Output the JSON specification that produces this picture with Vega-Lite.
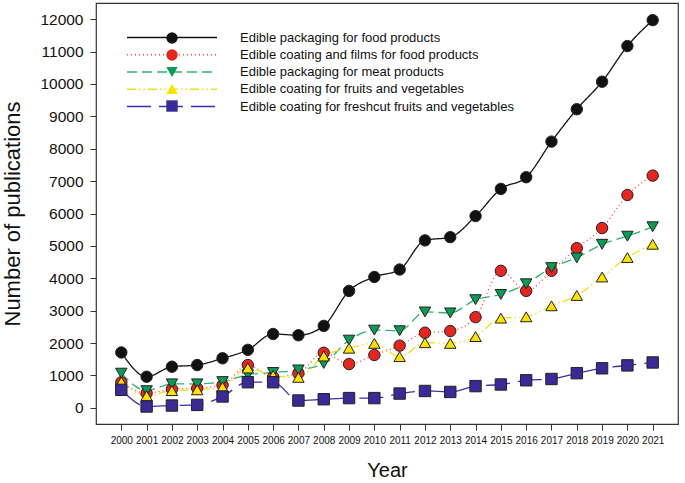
{
  "$schema": "https://vega.github.io/schema/vega-lite/v6.json",
  "width": 582,
  "height": 421,
  "autosize": {"type": "none"},
  "padding": {"left": 96, "top": 3, "right": 7, "bottom": 59},
  "config": {
    "font": "Liberation Sans",
    "view": {"stroke": "#333", "strokeWidth": 1.2},
    "axis": {"grid": false}
  },
  "datasets": {
    "pubs": [
      {"year": 2000, "series": "Edible packaging for food products", "value": 1710},
      {"year": 2001, "series": "Edible packaging for food products", "value": 960},
      {"year": 2002, "series": "Edible packaging for food products", "value": 1270},
      {"year": 2003, "series": "Edible packaging for food products", "value": 1320},
      {"year": 2004, "series": "Edible packaging for food products", "value": 1530},
      {"year": 2005, "series": "Edible packaging for food products", "value": 1790},
      {"year": 2006, "series": "Edible packaging for food products", "value": 2280},
      {"year": 2007, "series": "Edible packaging for food products", "value": 2240},
      {"year": 2008, "series": "Edible packaging for food products", "value": 2530},
      {"year": 2009, "series": "Edible packaging for food products", "value": 3610},
      {"year": 2010, "series": "Edible packaging for food products", "value": 4040},
      {"year": 2011, "series": "Edible packaging for food products", "value": 4270},
      {"year": 2012, "series": "Edible packaging for food products", "value": 5170},
      {"year": 2013, "series": "Edible packaging for food products", "value": 5270},
      {"year": 2014, "series": "Edible packaging for food products", "value": 5920},
      {"year": 2015, "series": "Edible packaging for food products", "value": 6760},
      {"year": 2016, "series": "Edible packaging for food products", "value": 7120},
      {"year": 2017, "series": "Edible packaging for food products", "value": 8220},
      {"year": 2018, "series": "Edible packaging for food products", "value": 9220},
      {"year": 2019, "series": "Edible packaging for food products", "value": 10070},
      {"year": 2020, "series": "Edible packaging for food products", "value": 11170},
      {"year": 2021, "series": "Edible packaging for food products", "value": 11970},

      {"year": 2000, "series": "Edible coating and films for food products", "value": 790},
      {"year": 2001, "series": "Edible coating and films for food products", "value": 450},
      {"year": 2002, "series": "Edible coating and films for food products", "value": 575},
      {"year": 2003, "series": "Edible coating and films for food products", "value": 605},
      {"year": 2004, "series": "Edible coating and films for food products", "value": 700},
      {"year": 2005, "series": "Edible coating and films for food products", "value": 1320},
      {"year": 2006, "series": "Edible coating and films for food products", "value": 950},
      {"year": 2007, "series": "Edible coating and films for food products", "value": 1070},
      {"year": 2008, "series": "Edible coating and films for food products", "value": 1700},
      {"year": 2009, "series": "Edible coating and films for food products", "value": 1350},
      {"year": 2010, "series": "Edible coating and films for food products", "value": 1630},
      {"year": 2011, "series": "Edible coating and films for food products", "value": 1920},
      {"year": 2012, "series": "Edible coating and films for food products", "value": 2320},
      {"year": 2013, "series": "Edible coating and films for food products", "value": 2370},
      {"year": 2014, "series": "Edible coating and films for food products", "value": 2800},
      {"year": 2015, "series": "Edible coating and films for food products", "value": 4230},
      {"year": 2016, "series": "Edible coating and films for food products", "value": 3610},
      {"year": 2017, "series": "Edible coating and films for food products", "value": 4230},
      {"year": 2018, "series": "Edible coating and films for food products", "value": 4930},
      {"year": 2019, "series": "Edible coating and films for food products", "value": 5550},
      {"year": 2020, "series": "Edible coating and films for food products", "value": 6570},
      {"year": 2021, "series": "Edible coating and films for food products", "value": 7170},

      {"year": 2000, "series": "Edible packaging for meat products", "value": 1070},
      {"year": 2001, "series": "Edible packaging for meat products", "value": 530},
      {"year": 2002, "series": "Edible packaging for meat products", "value": 740},
      {"year": 2003, "series": "Edible packaging for meat products", "value": 740},
      {"year": 2004, "series": "Edible packaging for meat products", "value": 810},
      {"year": 2005, "series": "Edible packaging for meat products", "value": 1020},
      {"year": 2006, "series": "Edible packaging for meat products", "value": 1090},
      {"year": 2007, "series": "Edible packaging for meat products", "value": 1170},
      {"year": 2008, "series": "Edible packaging for meat products", "value": 1370},
      {"year": 2009, "series": "Edible packaging for meat products", "value": 2090},
      {"year": 2010, "series": "Edible packaging for meat products", "value": 2400},
      {"year": 2011, "series": "Edible packaging for meat products", "value": 2380},
      {"year": 2012, "series": "Edible packaging for meat products", "value": 2960},
      {"year": 2013, "series": "Edible packaging for meat products", "value": 2930},
      {"year": 2014, "series": "Edible packaging for meat products", "value": 3340},
      {"year": 2015, "series": "Edible packaging for meat products", "value": 3500},
      {"year": 2016, "series": "Edible packaging for meat products", "value": 3830},
      {"year": 2017, "series": "Edible packaging for meat products", "value": 4330},
      {"year": 2018, "series": "Edible packaging for meat products", "value": 4630},
      {"year": 2019, "series": "Edible packaging for meat products", "value": 5050},
      {"year": 2020, "series": "Edible packaging for meat products", "value": 5300},
      {"year": 2021, "series": "Edible packaging for meat products", "value": 5590},

      {"year": 2000, "series": "Edible coating for fruits and vegetables", "value": 800},
      {"year": 2001, "series": "Edible coating for fruits and vegetables", "value": 370},
      {"year": 2002, "series": "Edible coating for fruits and vegetables", "value": 530},
      {"year": 2003, "series": "Edible coating for fruits and vegetables", "value": 555},
      {"year": 2004, "series": "Edible coating for fruits and vegetables", "value": 640},
      {"year": 2005, "series": "Edible coating for fruits and vegetables", "value": 1230},
      {"year": 2006, "series": "Edible coating for fruits and vegetables", "value": 1000},
      {"year": 2007, "series": "Edible coating for fruits and vegetables", "value": 940},
      {"year": 2008, "series": "Edible coating for fruits and vegetables", "value": 1600},
      {"year": 2009, "series": "Edible coating for fruits and vegetables", "value": 1840},
      {"year": 2010, "series": "Edible coating for fruits and vegetables", "value": 1990},
      {"year": 2011, "series": "Edible coating for fruits and vegetables", "value": 1580},
      {"year": 2012, "series": "Edible coating for fruits and vegetables", "value": 2010},
      {"year": 2013, "series": "Edible coating for fruits and vegetables", "value": 1990},
      {"year": 2014, "series": "Edible coating for fruits and vegetables", "value": 2200},
      {"year": 2015, "series": "Edible coating for fruits and vegetables", "value": 2770},
      {"year": 2016, "series": "Edible coating for fruits and vegetables", "value": 2810},
      {"year": 2017, "series": "Edible coating for fruits and vegetables", "value": 3150},
      {"year": 2018, "series": "Edible coating for fruits and vegetables", "value": 3470},
      {"year": 2019, "series": "Edible coating for fruits and vegetables", "value": 4040},
      {"year": 2020, "series": "Edible coating for fruits and vegetables", "value": 4640},
      {"year": 2021, "series": "Edible coating for fruits and vegetables", "value": 5050},

      {"year": 2000, "series": "Edible coating for freshcut fruits and vegetables", "value": 555},
      {"year": 2001, "series": "Edible coating for freshcut fruits and vegetables", "value": 40},
      {"year": 2002, "series": "Edible coating for freshcut fruits and vegetables", "value": 70},
      {"year": 2003, "series": "Edible coating for freshcut fruits and vegetables", "value": 90},
      {"year": 2004, "series": "Edible coating for freshcut fruits and vegetables", "value": 350},
      {"year": 2005, "series": "Edible coating for freshcut fruits and vegetables", "value": 790},
      {"year": 2006, "series": "Edible coating for freshcut fruits and vegetables", "value": 790},
      {"year": 2007, "series": "Edible coating for freshcut fruits and vegetables", "value": 225},
      {"year": 2008, "series": "Edible coating for freshcut fruits and vegetables", "value": 265},
      {"year": 2009, "series": "Edible coating for freshcut fruits and vegetables", "value": 300},
      {"year": 2010, "series": "Edible coating for freshcut fruits and vegetables", "value": 300},
      {"year": 2011, "series": "Edible coating for freshcut fruits and vegetables", "value": 440},
      {"year": 2012, "series": "Edible coating for freshcut fruits and vegetables", "value": 520},
      {"year": 2013, "series": "Edible coating for freshcut fruits and vegetables", "value": 490},
      {"year": 2014, "series": "Edible coating for freshcut fruits and vegetables", "value": 670},
      {"year": 2015, "series": "Edible coating for freshcut fruits and vegetables", "value": 720},
      {"year": 2016, "series": "Edible coating for freshcut fruits and vegetables", "value": 850},
      {"year": 2017, "series": "Edible coating for freshcut fruits and vegetables", "value": 890},
      {"year": 2018, "series": "Edible coating for freshcut fruits and vegetables", "value": 1070},
      {"year": 2019, "series": "Edible coating for freshcut fruits and vegetables", "value": 1220},
      {"year": 2020, "series": "Edible coating for freshcut fruits and vegetables", "value": 1310},
      {"year": 2021, "series": "Edible coating for freshcut fruits and vegetables", "value": 1400}
    ]
  },
  "data": {"name": "pubs"},
  "encoding": {
    "x": {
      "field": "year", "type": "quantitative",
      "scale": {"domain": [1999, 2022], "nice": false, "zero": false},
      "axis": {
        "values": [2000, 2001, 2002, 2003, 2004, 2005, 2006, 2007, 2008, 2009, 2010, 2011, 2012, 2013, 2014, 2015, 2016, 2017, 2018, 2019, 2020, 2021],
        "format": "d", "domain": false, "tickSize": 6, "tickColor": "#333",
        "labelFontSize": 10, "labelColor": "#111", "labelPadding": 5,
        "labelFlush": false, "labelOverlap": false,
        "title": "Year", "titleFontSize": 20, "titleFontWeight": "normal",
        "titleColor": "#111", "titlePadding": 15
      }
    },
    "y": {
      "field": "value", "type": "quantitative",
      "scale": {"domain": [-500, 12500], "nice": false, "zero": false},
      "axis": {
        "values": [0, 1000, 2000, 3000, 4000, 5000, 6000, 7000, 8000, 9000, 10000, 11000, 12000],
        "format": "d", "domain": false, "tickSize": 6, "tickColor": "#333",
        "labelFontSize": 15.5, "labelColor": "#111", "labelPadding": 7,
        "labelFlush": false, "labelOverlap": false,
        "title": "Number of publications", "titleFontSize": 22, "titleFontWeight": "normal",
        "titleColor": "#111", "titlePadding": 15
      }
    }
  },
  "layer": [
    {
      "mark": {"type": "line", "interpolate": "monotone", "strokeWidth": 1.3},
      "encoding": {
        "stroke": {
          "field": "series", "type": "nominal",
          "scale": {
            "domain": ["Edible packaging for food products", "Edible coating and films for food products", "Edible packaging for meat products", "Edible coating for fruits and vegetables", "Edible coating for freshcut fruits and vegetables"],
            "range": ["#111111", "#ff3b3b", "#2fb36d", "#f2de1b", "#3a30ad"]
          },
          "legend": {
            "orient": "none", "legendX": 69.5, "legendY": 28, "title": null, "padding": 0,
            "symbolType": "M-7.9,-1.15M-7.9,0H7.9M7.9,1.15", "symbolSize": 130, "symbolStrokeWidth": 1.3,
            "labelFontSize": 13, "labelColor": "#111", "labelLimit": 0,
            "labelOffset": 61.5, "rowPadding": -1.75, "gridAlign": "all", "zindex": 1
          }
        },
        "strokeDash": {
          "field": "series", "type": "nominal",
          "scale": {
            "domain": ["Edible packaging for food products", "Edible coating and films for food products", "Edible packaging for meat products", "Edible coating for fruits and vegetables", "Edible coating for freshcut fruits and vegetables"],
            "range": [[1, 0], [1, 3], [10, 5], [9, 3, 1.5, 3, 1.5, 3], [24, 8]]
          },
          "legend": {
            "orient": "none", "legendX": 69.5, "legendY": 28, "title": null, "padding": 0,
            "symbolType": "M-7.9,-1.15M-7.9,0H7.9M7.9,1.15", "symbolSize": 130, "symbolStrokeWidth": 1.3,
            "labelFontSize": 13, "labelColor": "#111", "labelLimit": 0,
            "labelOffset": 61.5, "rowPadding": -1.75, "gridAlign": "all", "zindex": 1
          }
        }
      }
    },
    {
      "mark": {"type": "point", "filled": true, "size": 130, "opacity": 1, "stroke": "#222", "strokeWidth": 1},
      "encoding": {
        "fill": {
          "field": "series", "type": "nominal", "sort": null,
          "scale": {"range": ["#111111", "#e3261f", "#0d9a57", "#ffe200", "#3a2a96"]},
          "legend": {
            "orient": "none", "legendX": 69.5, "legendY": 28.5, "title": null, "padding": 0,
            "symbolSize": 130, "symbolStrokeColor": "#222", "symbolStrokeWidth": 1,
            "labelFontSize": 13, "labelOpacity": 0, "labelLimit": 0, "labelOffset": 61.5,
            "rowPadding": 0, "gridAlign": "all", "zindex": 2
          }
        },
        "shape": {
          "field": "series", "type": "nominal", "sort": null,
          "scale": {"range": ["circle", "circle", "triangle-down", "triangle-up", "square"]},
          "legend": {
            "orient": "none", "legendX": 69.5, "legendY": 28.5, "title": null, "padding": 0,
            "symbolSize": 130, "symbolStrokeColor": "#222", "symbolStrokeWidth": 1,
            "labelFontSize": 13, "labelOpacity": 0, "labelLimit": 0, "labelOffset": 61.5,
            "rowPadding": 0, "gridAlign": "all", "zindex": 2
          }
        }
      }
    }
  ]
}
